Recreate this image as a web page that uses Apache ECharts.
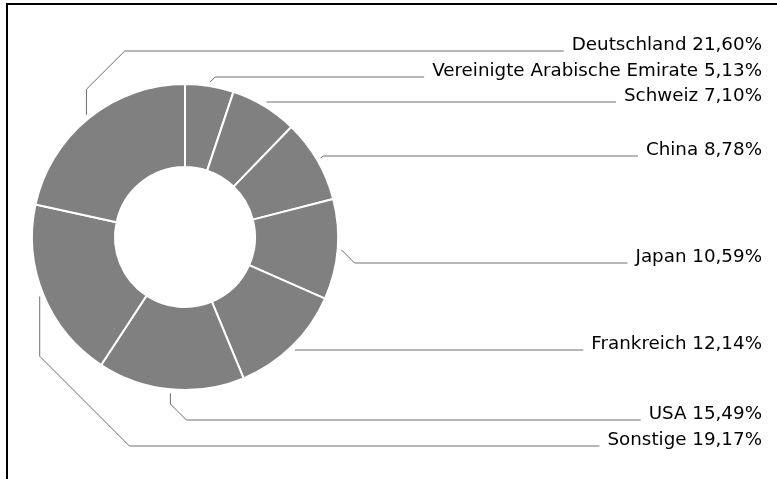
<!DOCTYPE html>
<html>
<head>
<meta charset="utf-8">
<script src="https://cdn.jsdelivr.net/npm/echarts@6/dist/echarts.min.js"></script>
<style>
  html, body { margin: 0; padding: 0; background: #fff; }
  #chart { width: 777px; height: 479px; }
</style>
</head>
<body>
<div id="chart"></div>
<script>
// Data (clockwise from 12 o'clock)
const categories = ['Vereinigte Arabische Emirate', 'Schweiz', 'China', 'Japan', 'Frankreich', 'USA', 'Sonstige', 'Deutschland'];
const shares = [5.13, 7.10, 8.78, 10.59, 12.14, 15.49, 19.17, 21.60];

// Layout constants
const CX = 185, CY = 237, R_OUT = 153, R_IN = 70;
const LABEL_RIGHT = 762;
const labelBaselines = [77, 102, 156, 263, 350, 420, 446, 51];

const chart = echarts.init(document.getElementById('chart'), null, { renderer: 'canvas' });

function fmt(v) { return v.toFixed(2).replace('.', ',') + '%'; }

const option = {
  animation: false,
  backgroundColor: '#fff',
  graphic: [
    { type: 'line', shape: { x1: 6, y1: 4, x2: 777, y2: 4 }, style: { stroke: '#000', lineWidth: 2 }, silent: true },
    { type: 'line', shape: { x1: 7, y1: 3, x2: 7, y2: 479 }, style: { stroke: '#000', lineWidth: 2 }, silent: true }
  ],
  series: [{
    type: 'pie',
    center: [CX, CY],
    radius: [R_IN, R_OUT],
    startAngle: 90,
    clockwise: true,
    avoidLabelOverlap: false,
    silent: true,
    emphasis: { disabled: true },
    itemStyle: { color: '#808080', borderColor: '#fff', borderWidth: 2 },
    label: {
      show: true,
      position: 'outside',
      color: '#000',
      fontFamily: 'DejaVu Sans',
      fontSize: 18.3,
      formatter: function (p) { return p.name + ' ' + fmt(p.value); }
    },
    labelLine: { show: true, length: 10, length2: 20, lineStyle: { color: '#6e6e6e', width: 1 } },
    labelLayout: function (p) {
      const i = p.dataIndex;
      const p0 = p.labelLinePoints[0];
      const dx = p0[0] - CX, dy = p0[1] - CY;
      const d = Math.hypot(dx, dy) || 1;
      const sx = CX + dx / d * (R_OUT + 4);
      const sy = CY + dy / d * (R_OUT + 4);
      const by = labelBaselines[i];
      const endX = LABEL_RIGHT - p.labelRect.width - 8;
      const vy = by - sy;
      const ady = Math.abs(vy);
      const sign = vy < 0 ? -1 : 1;
      let pts;
      if (ady < 1.5) {
        pts = [[sx, by], [endX, by]];
      } else if (sx < CX) {
        const v = ady * 0.4;
        pts = [[sx, sy], [sx, sy + sign * v], [sx + (ady - v), by], [endX, by]];
      } else {
        pts = [[sx, sy], [sx + ady, by], [endX, by]];
      }
      return {
        x: LABEL_RIGHT,
        y: by - 6,
        align: 'right',
        verticalAlign: 'middle',
        labelLinePoints: pts
      };
    },
    data: categories.map(function (n, i) { return { name: n, value: shares[i] }; })
  }]
};
chart.setOption(option);
</script>
</body>
</html>
